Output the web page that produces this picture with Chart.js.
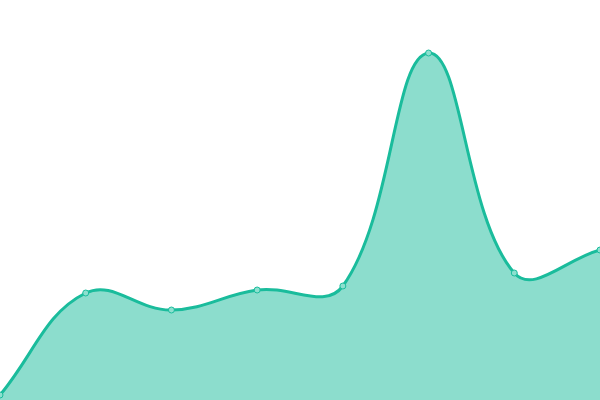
<!DOCTYPE html>
<html>
<head>
<meta charset="utf-8">
<script src="https://cdn.jsdelivr.net/npm/chart.js@4/dist/chart.umd.min.js"></script>
<style>
  html, body { margin: 0; padding: 0; background: #fff; }
  #wrap { width: 600px; height: 400px; }
</style>
</head>
<body>
<div id="wrap"><canvas id="c"></canvas></div>
<script>
const labels = ['1', '2', '3', '4', '5', '6', '7', '8'];
const values = [5, 107, 90, 110, 114, 347, 127, 150];

const ctx = document.getElementById('c').getContext('2d');
new Chart(ctx, {
  type: 'line',
  data: {
    labels: labels,
    datasets: [{
      data: values,
      borderColor: '#1abc9c',
      backgroundColor: 'rgba(26, 188, 156, 0.5)',
      borderWidth: 3,
      fill: true,
      tension: 0.4,
      pointRadius: 3,
      pointBorderWidth: 1,
      pointBackgroundColor: '#8de0cf',
      pointBorderColor: '#1abc9c'
    }]
  },
  options: {
    responsive: true,
    maintainAspectRatio: false,
    animation: false,
    layout: { padding: 0, autoPadding: false },
    plugins: {
      legend: { display: false },
      tooltip: { enabled: false }
    },
    scales: {
      x: { display: false, offset: false },
      y: { display: false, min: 0, max: 400 }
    }
  }
});
</script>
</body>
</html>
